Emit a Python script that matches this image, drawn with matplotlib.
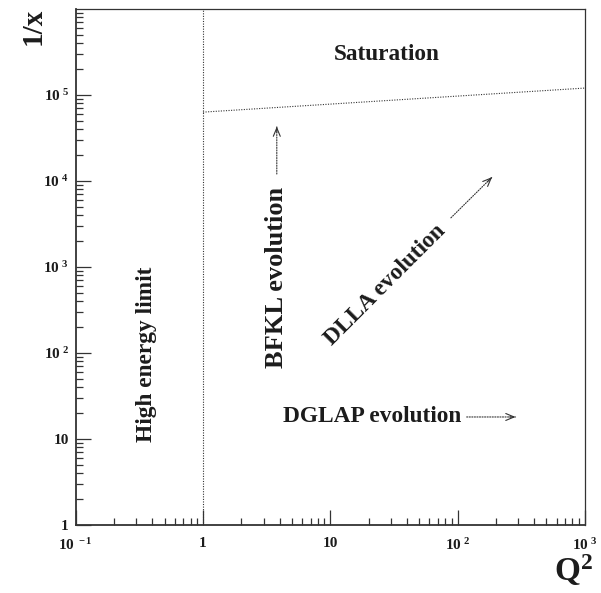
import matplotlib.pyplot as plt
import matplotlib.ticker as mtick

# ── style ────────────────────────────────────────────────────────────────
plt.rcParams["font.family"] = ["Liberation Serif", "DejaVu Serif"]
plt.rcParams["font.weight"] = "bold"
plt.rcParams["mathtext.fontset"] = "custom"
plt.rcParams["mathtext.rm"] = "Liberation Serif:bold"
plt.rcParams["mathtext.bf"] = "Liberation Serif:bold"
plt.rcParams["mathtext.it"] = "Liberation Serif:bold"

INK = "#1c1c1c"
LINE_INK = "#333333"
DOTTED = (0, (1.0, 1.3))
REGION_FONTSIZE = 16.8
BFKL_FONTSIZE = 19
TICK_FONTSIZE = 11

# ── data ─────────────────────────────────────────────────────────────────
x_range = [0.1, 1.0e3]  # Q^2
y_range = [1.0, 1.0e6]  # 1/x

boundary_q2 = [1.0, 1.0]
boundary_inv_x = [1.0, 1.0e6]

saturation_q2 = [1.0, 1.0e3]
saturation_inv_x = [6.3e4, 1.2e5]

x_tick_vals = [0.1, 1, 10, 100, 1000]
x_tick_labels = [r"$10^{\ -1}$", "1", "10", r"$10^{\ 2}$", r"$10^{\ 3}$"]
y_tick_vals = [1, 10, 100, 1.0e3, 1.0e4, 1.0e5]
y_tick_labels = ["1", "10", r"$10^{\ 2}$", r"$10^{\ 3}$", r"$10^{\ 4}$", r"$10^{\ 5}$"]


def dotted_arrow(ax, start, end):
    """Dotted shaft with a small solid open head, in axes fractions."""
    ax.annotate(
        "", xy=end, xytext=start, xycoords="axes fraction",
        arrowprops=dict(arrowstyle="-", color=LINE_INK, lw=0.8,
                        linestyle=DOTTED, shrinkA=0, shrinkB=0),
    )
    dx = end[0] - start[0]
    dy = end[1] - start[1]
    tail = (end[0] - dx * 0.12, end[1] - dy * 0.12)
    ax.annotate(
        "", xy=end, xytext=tail, xycoords="axes fraction",
        arrowprops=dict(arrowstyle="->,head_width=0.25,head_length=0.6",
                        color=LINE_INK, lw=0.8, shrinkA=0, shrinkB=0),
    )


def main():
    fig = plt.figure(figsize=(6.01, 5.93), dpi=100)
    ax = fig.add_axes([0.126, 0.115, 0.847, 0.870])
    ax.set_xscale("log")
    ax.set_yscale("log")
    ax.set_xlim(*x_range)
    ax.set_ylim(*y_range)

    ax.plot(boundary_q2, boundary_inv_x, color=LINE_INK, lw=0.8, linestyle=DOTTED)
    ax.plot(saturation_q2, saturation_inv_x, color=LINE_INK, lw=0.8, linestyle=DOTTED)

    # ticks, ROOT-like: inside, bottom/left only
    ax.xaxis.set_major_locator(mtick.FixedLocator(x_tick_vals))
    ax.xaxis.set_major_formatter(mtick.FixedFormatter(x_tick_labels))
    ax.yaxis.set_major_locator(mtick.FixedLocator(y_tick_vals))
    ax.yaxis.set_major_formatter(mtick.FixedFormatter(y_tick_labels))
    for axis in (ax.xaxis, ax.yaxis):
        axis.set_minor_locator(mtick.LogLocator(base=10, subs=range(2, 10), numticks=100))
        axis.set_minor_formatter(mtick.NullFormatter())
    ax.tick_params(which="major", direction="in", length=10.5, width=0.9,
                   color=LINE_INK, labelsize=TICK_FONTSIZE, labelcolor=INK)
    ax.tick_params(which="minor", direction="in", length=5, width=0.9, color=LINE_INK)
    ax.tick_params(axis="x", which="major", pad=9)
    ax.tick_params(axis="y", which="major", pad=5)
    for spine in ax.spines.values():
        spine.set_linewidth(0.9)
        spine.set_color(LINE_INK)
    for side in ("left", "bottom"):
        ax.spines[side].set_linewidth(1.3)

    # region labels
    text_kw = dict(transform=ax.transAxes, fontweight="bold", color=INK,
                   ha="center", va="center")
    ax.text(0.611, 0.911, "Saturation", fontsize=REGION_FONTSIZE, **text_kw)
    ax.text(0.139, 0.330, "High energy limit", rotation=90,
            fontsize=REGION_FONTSIZE, **text_kw)
    ax.text(0.395, 0.480, "BFKL evolution", rotation=90,
            fontsize=BFKL_FONTSIZE, **text_kw)
    ax.text(0.607, 0.465, "DLLA evolution", rotation=45,
            fontsize=REGION_FONTSIZE, **text_kw)
    ax.text(0.582, 0.209, "DGLAP evolution", fontsize=REGION_FONTSIZE, **text_kw)

    dotted_arrow(ax, (0.395, 0.680), (0.395, 0.772))
    dotted_arrow(ax, (0.737, 0.595), (0.818, 0.674))
    dotted_arrow(ax, (0.768, 0.209), (0.864, 0.209))

    # axis titles
    fig.text(0.055, 0.955, "1/x", rotation=90, fontsize=21, fontweight="bold",
             color=INK, ha="center", va="center")
    fig.text(0.986, 0.008, r"Q$^{2}$", fontsize=24, fontweight="bold",
             color=INK, ha="right", va="bottom")

    fig.savefig("out.png", dpi=100)
    plt.close(fig)


if __name__ == "__main__":
    main()
